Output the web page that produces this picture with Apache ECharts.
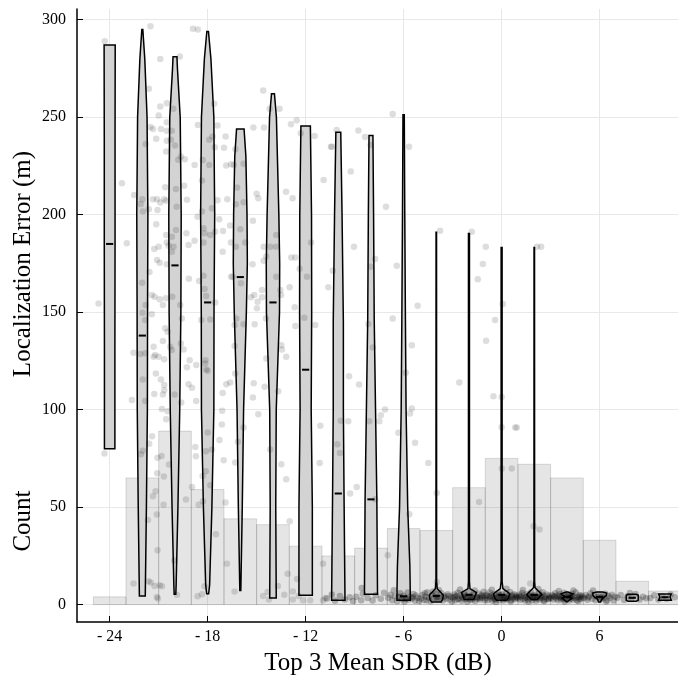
<!DOCTYPE html>
<html>
<head>
<meta charset="utf-8">
<script src="https://cdn.jsdelivr.net/npm/echarts@6/dist/echarts.min.js"></script>
<style>
  html, body { margin: 0; padding: 0; background: #fff; }
  #chart { width: 678px; height: 681px; }
</style>
</head>
<body>
<div id="chart"></div>
<script>
// Histogram of Top-3 mean SDR (2 dB bins)
const binStarts = [-25, -23, -21, -19, -17, -15, -13, -11, -9, -7, -5, -3, -1, 1, 3, 5, 7, 9];
const binCounts = [4, 65, 89, 59, 44, 41, 30, 25, 29, 39, 38, 60, 75, 72, 65, 33, 12, 7];
const BIN_WIDTH = 2;

// Per-bin violins of localization error: centre (dB), median (m),
// and density outline as [error (m), half-width (dB)] pairs.
const violinCenters = [-24, -22, -20, -18, -16, -14, -12, -10, -8, -6, -4, -2, 0, 2, 4, 6, 8, 10];
const violinMedians = [185, 138, 174, 155, 168, 155, 120.5, 57, 54, 4.3, 4.5, 5, 5, 5, 4, 4, 3.5, 3.8];
const violinProfiles = [
  [[80, 0.32], [130, 0.32], [185, 0.33], [240, 0.33], [287, 0.34]],
  [[4.4, 0.18], [50, 0.25], [100, 0.31], [150, 0.32], [200, 0.34], [250, 0.29], [280, 0.15], [295, 0.03]],
  [[5.3, 0.05], [10, 0.07], [50, 0.18], [100, 0.29], [150, 0.36], [200, 0.38], [250, 0.32], [275, 0.15], [281, 0.12]],
  [[5.6, 0.06], [10, 0.12], [50, 0.26], [100, 0.38], [150, 0.39], [200, 0.43], [250, 0.38], [280, 0.2], [294, 0.05]],
  [[7.3, 0.03], [50, 0.12], [100, 0.2], [150, 0.37], [175, 0.43], [200, 0.41], [230, 0.34], [244, 0.23]],
  [[3.4, 0.2], [50, 0.17], [100, 0.2], [150, 0.4], [175, 0.41], [200, 0.36], [250, 0.21], [262, 0.09]],
  [[4.8, 0.41], [50, 0.41], [100, 0.34], [150, 0.37], [200, 0.36], [245.5, 0.29]],
  [[2.2, 0.41], [57, 0.35], [100, 0.31], [145, 0.31], [200, 0.23], [242.3, 0.15]],
  [[5.3, 0.4], [54, 0.36], [100, 0.28], [146, 0.2], [200, 0.16], [240.6, 0.12]],
  [[2.2, 0.41], [10, 0.4], [20, 0.38], [50, 0.25], [100, 0.15], [146, 0.11], [200, 0.07], [251.3, 0.04]],
  [[1.3, 0.29], [2.5, 0.38], [4.8, 0.43], [8.2, 0.06], [12, 0.02], [191, 0.015]],
  [[2.6, 0.29], [6.2, 0.46], [8.2, 0.06], [12, 0.03], [190.4, 0.03]],
  [[2.2, 0.31], [3.5, 0.42], [5.6, 0.5], [8.2, 0.08], [12, 0.03], [183.2, 0.03]],
  [[2.6, 0.18], [5.2, 0.46], [8.7, 0.05], [12, 0.02], [183.2, 0.015]],
  [[1.6, 0.05], [3.3, 0.31], [4.1, 0.12], [5.5, 0.37], [6.5, 0.06]],
  [[1.3, 0.05], [3, 0.15], [4.5, 0.4], [6, 0.43], [6.5, 0.18]],
  [[1.8, 0.25], [2.3, 0.37], [4.8, 0.37], [5.3, 0.25]],
  [[2.3, 0.39], [3.9, 0.31], [5.5, 0.39]]
];

// Individual trials: [SDR (dB), localization error (m)]
const spreadPoints = [
  [-24.3, 288.9], [-21.5, 296.6], [-18.9, 295.4], [-18.6, 295], [-20.9, 279.8], [-19.7, 281.2], [-21.6, 264.6],
  [-20.9, 255.5], [-20.5, 257.2], [-21.0, 250.9], [-20.1, 254.3], [-17.6, 256.9], [-18.6, 246], [-17.4, 245.7],
  [-21.5, 245], [-21.35, 244], [-20.86, 244], [-20.5, 247.4], [-20.5, 243], [-20.2, 243], [-21.15, 238.9],
  [-20.5, 237.9], [-20.25, 238.4], [-21.8, 236.2], [-20.0, 235.5], [-20.54, 232.4], [-19.8, 228.2], [-19.4, 228.5],
  [-19.64, 229.8], [-18.8, 225.5], [-18.3, 228.1], [-17.9, 225.5], [-17.9, 238.4], [-17.7, 240.1], [-17.56, 234.6],
  [-16.9, 240.1], [-17.0, 234.4], [-16.3, 233.6], [-16.86, 225.2], [-16.57, 225.9], [-16.4, 225.5], [-15.8, 226.1],
  [-15.2, 244.7], [-14.55, 244.7], [-14.6, 263.7], [-14.2, 254.3], [-13.6, 254.3], [-12.9, 246.4], [-12.55, 248.5],
  [-12.3, 241.8], [-11.45, 240.4], [-10.45, 234.9], [-10.9, 217.8], [-23.25, 216.1], [-22.5, 210.1], [-22.1, 205.5],
  [-22.0, 207.9], [-21.35, 207.9], [-21.1, 207.9], [-20.9, 206.2], [-20.66, 207.9], [-20.54, 207.2], [-21.07, 202.4],
  [-21.6, 202.8], [-21.97, 201.6], [-20.6, 214.1], [-19.9, 204.1], [-19.94, 213.2], [-19.44, 214.9], [-19.27, 207.7],
  [-18.35, 217.5], [-18.35, 201.6], [-17.74, 203.3], [-17.4, 207.4], [-16.8, 207.9], [-16.2, 213.9], [-16.27, 205.4],
  [-15.8, 206.4], [-15.0, 210.8], [-14.9, 208.4], [-13.2, 211.8], [-12.8, 208.4],
  [-21.15, 195.1], [-20.54, 189.6], [-20.19, 188.7], [-19.94, 192.2], [-19.3, 190.5], [-18.62, 199], [-18.25, 193.1],
  [-18.19, 190.5], [-17.84, 189.6], [-17.54, 191.3], [-17.29, 197.7], [-17.06, 191.7], [-16.62, 194.5], [-16.0, 192.5],
  [-16.57, 185.7], [-16.27, 183.6], [-15.7, 185.7], [-15.23, 196.9], [-22.95, 185.3], [-21.27, 182.4], [-21.0, 183.6],
  [-20.5, 185.7], [-20.09, 183.6], [-20.19, 181], [-20.39, 184.1], [-21.1, 176.8], [-20.94, 175.4], [-20.5, 174.6],
  [-21.56, 170.6], [-19.17, 184.5], [-18.8, 186.7], [-18.25, 185.7], [-17.08, 181], [-15.25, 174.6], [-14.57, 183.6],
  [-14.17, 183.6], [-13.82, 183.6], [-13.8, 189.6], [-14.57, 176.4], [-14.41, 178.5], [-13.8, 168.2], [-12.88, 178],
  [-12.63, 178], [-12.37, 172.3], [-11.92, 168.2], [-11.67, 185.7], [-10.34, 171.3], [-10.61, 162.8], [-19.15, 167.1],
  [-18.52, 166], [-18.25, 168.7], [-16.56, 168.2], [-16.47, 168.2], [-15.96, 164.8], [-18.19, 161.9], [-18.09, 158.3],
  [-17.54, 155], [-17.84, 146.3], [-18.39, 146], [-22.01, 165.1], [-21.42, 158.8], [-21.25, 157.9], [-20.94, 156.6],
  [-20.74, 153.7], [-20.56, 157.1], [-21.8, 153.7], [-21.99, 149.7], [-21.83, 146], [-21.42, 149], [-20.17, 157.9],
  [-19.68, 153.7], [-19.58, 146.8], [-15.35, 157.6], [-15.15, 158.8], [-14.94, 155.4], [-14.98, 152], [-14.67, 161.4],
  [-14.67, 157.6], [-13.55, 161.4], [-13.51, 158.8], [-12.98, 162.8], [-12.67, 152.5], [-14.43, 146.8], [-16.25, 146.8],
  [-16.35, 143.4], [-15.8, 143.8], [-15.12, 143.8], [-12.63, 142.9], [-11.41, 143.4], [-12.08, 147.1], [-24.68, 154.5],
  [-20.6, 141.7], [-20.45, 140], [-20.74, 135.2], [-21.31, 132.3], [-21.31, 127.1], [-21.0, 127.1], [-20.66, 125.8],
  [-21.21, 128], [-22.54, 129.2], [-22.13, 128.5], [-21.83, 128.9], [-20.29, 132.3], [-20.19, 130.6], [-19.64, 134],
  [-19.47, 130.9], [-19.1, 125.4], [-18.7, 122.9], [-19.27, 121.7], [-18.13, 125.4], [-18.15, 123.7], [-18.09, 120.6],
  [-18.0, 119.9], [-16.35, 132.6], [-16.31, 118.6], [-13.49, 133.1], [-13.45, 130.9], [-13.19, 127.1], [-14.41, 126.3],
  [-21.17, 118.6], [-20.86, 115.5], [-20.66, 112.6], [-20.66, 110], [-21.27, 108], [-20.74, 107.8], [-21.97, 115.5],
  [-21.83, 104.4], [-22.64, 104.9], [-20.02, 107.8], [-19.62, 103.7], [-19.17, 113.1], [-18.96, 111.2], [-18.7, 104.4],
  [-17.08, 108.6], [-16.86, 113.1], [-16.62, 114], [-15.18, 113.5], [-15.23, 106.3], [-14.51, 111.7], [-13.68, 109.5],
  [-20.8, 100.3], [-20.45, 99.2], [-20.54, 95.1], [-17.11, 99.4], [-17.13, 92.4], [-17.27, 84.5], [-15.8, 90.9],
  [-14.9, 97.6], [-11.1, 91.7], [-24.32, 77.5], [-21.4, 86.4], [-21.58, 82.5], [-21.97, 78.9], [-22.09, 77.2],
  [-21.07, 75.3], [-20.82, 76.3], [-20.37, 71.9], [-21.09, 67.4], [-20.68, 65.7], [-21.19, 58.2], [-21.35, 55.6],
  [-20.7, 51.3], [-21.11, 46.2], [-21.66, 43.4], [-18.76, 80.9], [-18.72, 76.1], [-18.11, 78.7], [-17.74, 79.6],
  [-17.99, 88.3], [-17.02, 74.1], [-18.31, 66], [-18.11, 68.4], [-17.84, 61.3], [-18.96, 60.4], [-18.55, 51.3],
  [-18.29, 53], [-16.9, 52.4], [-17.49, 36.1], [-19.33, 53.9], [-16.31, 72.9], [-16.15, 83.5], [-13.49, 72],
  [-14.17, 79.6], [-13.19, 64.3], [-12.98, 42.8], [-11.14, 72.7], [-16.82, 21], [-21.07, 27.9], [-20.05, 22.7],
  [-22.54, 10.8], [-21.62, 12], [-21.48, 11.3], [-21.25, 9.5], [-20.94, 9.9], [-20.8, 9.4], [-21.11, 3.9],
  [-21.05, 3.1], [-19.88, 5.1], [-18.62, 4.3], [-18.35, 5.3], [-18.19, 9.4], [-16.35, 6.8], [-14.61, 4.4],
  [-14.33, 6.5], [-14.25, 2.7], [-13.7, 9.5], [-13.31, 5.1], [-13.1, 15.9], [-12.53, 13.1], [-12.78, 6.8],
  [-12.78, 2.6], [-12.43, 4.4], [-12.16, 2.2], [-11.72, 2.2], [-10.94, 21], [-10.8, 3.4], [-10.94, 2.2],
  [-10.1, 243.5], [-10.4, 234.9], [-8.77, 243.2], [-8.36, 239.8], [-8.02, 235.8], [-9.24, 222.1], [-6.67, 251.7],
  [-5.67, 234.9], [-7.08, 204.1], [-9.04, 183.6], [-7.75, 177.3], [-8.02, 173.3], [-6.42, 173.8], [-8.16, 143.9],
  [-6.67, 146.8], [-5.14, 153.3], [-3.77, 191.8], [-1.83, 191.3], [-0.97, 183.6], [-1.15, 174.7], [-1.46, 166.9],
  [0.07, 154.2], [-0.4, 146], [2.16, 183.6], [2.42, 183.6], [-7.89, 131.9], [-5.5, 133.1], [-5.87, 118.9],
  [-9.34, 117.2], [-8.73, 112.9], [-7.14, 100.1], [-7.4, 97.2], [-7.49, 94.1], [-8.1, 94.1], [-9.39, 94.1],
  [-9.85, 94.3], [-5.5, 100.6], [-5.61, 98.1], [-6.32, 88.1], [-5.3, 83], [-10.06, 82.3], [-9.9, 77.8],
  [-4.49, 72.7], [-2.59, 114], [-0.95, 135.3], [-0.5, 106.9], [-8.87, 60.4], [-9.28, 57], [-7.75, 54.1],
  [-3.97, 57.3], [-1.38, 52.7], [-5.65, 46.4], [-6.97, 25.3], [-3.97, 11.6], [0.62, 69.8], [0.01, 69.8],
  [0.83, 90.9], [0.93, 90.9], [1.95, 40.2], [2.32, 38.5], [1.75, 10.8], [0.0, 106.5], [0.0, 91]
];

// Trials with near-perfect localization (error below ~10 m)
const lowPoints = [
  [-10.7, 3.1], [-10.4, 5.2], [-10.2, 2.0], [-9.9, 4.4], [-9.6, 2.6], [-9.3, 3.8], [-9.1, 1.9],
  [-8.9, 4.1], [-8.6, 2.3], [-8.5, 5.6], [-8.2, 3.4], [-7.9, 2.1], [-7.7, 4.8], [-7.4, 3.0], [-7.2, 6.1], [-8.57, 8.5],
  [-6.95, 3.6], [-6.8, 5.1], [-6.7, 2.2], [-6.55, 4.3], [-6.4, 1.7], [-6.3, 3.9], [-6.2, 5.8], [-6.1, 2.8],
  [-6.0, 4.5], [-5.95, 1.5], [-5.85, 3.3], [-5.75, 6.2], [-5.7, 2.5], [-5.6, 4.0], [-5.5, 3.1], [-5.4, 5.4],
  [-5.3, 2.0], [-5.25, 4.7], [-5.15, 3.5], [-5.05, 1.9], [-6.6, 7.4], [-5.9, 2.9], [-6.25, 4.1], [-5.45, 3.8],
  [-4.95, 3.2], [-4.85, 5.0], [-4.75, 2.4], [-4.65, 4.1], [-4.55, 6.3], [-4.45, 3.6], [-4.35, 1.8], [-4.25, 4.9],
  [-4.15, 3.0], [-4.05, 5.5], [-3.95, 2.6], [-3.9, 4.2], [-3.8, 3.4], [-3.7, 6.0], [-3.6, 2.1], [-3.5, 4.6],
  [-3.4, 3.1], [-3.3, 5.3], [-3.2, 2.7], [-3.1, 4.0], [-4.6, 2.2], [-4.2, 6.8], [-3.85, 7.5], [-4.0, 3.7],
  [-3.55, 3.9], [-3.05, 1.6], [-4.7, 5.8], [-3.25, 4.4],
  [-2.97, 3.5], [-2.9, 5.2], [-2.82, 2.3], [-2.75, 4.4], [-2.68, 6.1], [-2.6, 3.0], [-2.52, 4.8], [-2.45, 2.0],
  [-2.38, 3.9], [-2.3, 5.6], [-2.22, 2.8], [-2.15, 4.3], [-2.08, 3.2], [-2.0, 6.4], [-1.93, 2.5], [-1.86, 4.6],
  [-1.78, 3.4], [-1.7, 5.1], [-1.62, 1.9], [-1.55, 4.0], [-1.48, 3.0], [-1.4, 5.7], [-1.33, 2.6], [-1.25, 4.2],
  [-1.18, 3.6], [-1.1, 6.6], [-1.03, 2.2], [-2.55, 7.8], [-2.1, 1.5], [-1.65, 7.2], [-2.87, 4.0], [-2.4, 3.3],
  [-1.95, 4.1], [-1.5, 3.7], [-1.2, 4.9], [-2.7, 2.9], [-2.25, 5.0], [-1.8, 2.7], [-1.35, 3.5], [-1.05, 4.4],
  [-0.98, 3.4], [-0.92, 5.0], [-0.86, 2.4], [-0.8, 4.3], [-0.74, 6.2], [-0.68, 3.1], [-0.62, 4.7], [-0.56, 2.0],
  [-0.5, 3.8], [-0.44, 5.5], [-0.38, 2.7], [-0.32, 4.2], [-0.26, 3.3], [-0.2, 6.0], [-0.14, 2.3], [-0.08, 4.5],
  [-0.02, 3.6], [0.04, 5.2], [0.1, 2.1], [0.16, 4.0], [0.22, 3.0], [0.28, 5.8], [0.34, 2.6], [0.4, 4.4],
  [0.46, 3.5], [0.52, 6.5], [0.58, 2.2], [0.64, 4.1], [0.7, 3.2], [0.76, 5.3], [0.82, 2.8], [0.88, 4.6],
  [0.94, 3.7], [-0.6, 7.6], [0.3, 8.1], [-0.35, 1.4], [0.55, 1.6], [-0.15, 4.9], [0.12, 3.9], [0.35, 3.4],
  [0.65, 4.8], [-0.7, 4.0], [-0.45, 3.0], [0.85, 3.9], [0.05, 2.9],
  [1.02, 3.3], [1.08, 5.1], [1.14, 2.5], [1.2, 4.3], [1.26, 6.0], [1.32, 3.0], [1.38, 4.7], [1.44, 2.1],
  [1.5, 3.8], [1.56, 5.4], [1.62, 2.7], [1.68, 4.2], [1.74, 3.4], [1.8, 6.3], [1.86, 2.3], [1.92, 4.5],
  [1.98, 3.6], [2.04, 5.0], [2.1, 2.0], [2.16, 4.0], [2.22, 3.1], [2.28, 5.7], [2.34, 2.6], [2.4, 4.4],
  [2.46, 3.5], [2.52, 6.4], [2.58, 2.2], [2.64, 4.1], [2.7, 3.2], [2.76, 5.2], [2.82, 2.8], [2.88, 4.6],
  [2.94, 3.7], [1.3, 7.5], [2.25, 8.0], [1.65, 1.5], [2.6, 1.7], [1.1, 4.0], [1.45, 3.5], [1.9, 3.9],
  [2.05, 3.2], [2.5, 4.9], [2.9, 3.0], [1.7, 4.8], [2.35, 3.8],
  [3.03, 3.5], [3.1, 5.0], [3.16, 2.6], [3.22, 4.3], [3.28, 5.9], [3.34, 3.1], [3.4, 4.6], [3.46, 2.2],
  [3.52, 3.9], [3.58, 5.3], [3.64, 2.8], [3.7, 4.1], [3.76, 3.3], [3.82, 6.1], [3.88, 2.4], [3.94, 4.4],
  [4.0, 3.6], [4.06, 5.1], [4.12, 2.1], [4.18, 4.0], [4.24, 3.2], [4.3, 5.6], [4.36, 2.7], [4.42, 4.3],
  [4.48, 3.4], [4.54, 6.2], [4.6, 2.3], [4.66, 4.0], [4.72, 3.1], [4.78, 5.0], [4.84, 2.9], [4.9, 4.5],
  [4.96, 3.7], [3.5, 7.0], [4.4, 7.3], [3.85, 1.5], [4.7, 1.8], [3.25, 4.0], [3.6, 3.6], [4.1, 4.5],
  [4.3, 3.9], [4.8, 4.1],
  [5.05, 3.4], [5.15, 5.0], [5.25, 2.5], [5.35, 4.2], [5.45, 5.8], [5.55, 3.0], [5.65, 4.6], [5.75, 2.2],
  [5.85, 3.9], [5.95, 5.3], [6.05, 2.7], [6.15, 4.1], [6.25, 3.3], [6.35, 5.6], [6.45, 2.3], [6.55, 4.4],
  [6.65, 3.6], [6.75, 5.1], [6.85, 2.1], [6.95, 4.0], [5.6, 7.2], [6.4, 1.6], [5.3, 3.7], [6.1, 3.5],
  [7.1, 3.6], [7.3, 5.0], [7.5, 2.4], [7.7, 4.3], [7.95, 3.1], [8.2, 5.4], [8.45, 2.7], [8.65, 4.0],
  [8.85, 3.3], [7.85, 6.0],
  [9.1, 3.4], [9.35, 4.8], [9.6, 2.6], [9.85, 4.2], [10.1, 3.0], [10.35, 5.2], [10.6, 3.8]
];

// Axis ticks
const xTickValues = [-24, -18, -12, -6, 0, 6];
const yTickValues = [0, 50, 100, 150, 200, 250, 300];

const FONT = '"Liberation Serif", "DejaVu Serif", serif';
const GRID_COLOR = '#e8e8e8';

const chart = echarts.init(document.getElementById('chart'), null, { renderer: 'canvas' });

function renderBin(params, api) {
  const start = api.value(0);
  const count = api.value(1);
  const topLeft = api.coord([start, count]);
  const bottomRight = api.coord([start + BIN_WIDTH, 0]);
  return {
    type: 'rect',
    shape: {
      x: topLeft[0],
      y: topLeft[1],
      width: bottomRight[0] - topLeft[0],
      height: bottomRight[1] - topLeft[1]
    },
    style: { fill: 'rgba(0,0,0,0.1)', stroke: 'rgba(0,0,0,0.13)', lineWidth: 1 }
  };
}

function renderViolin(params, api) {
  const i = params.dataIndex;
  const c = api.value(0);
  const med = api.value(1);
  const prof = violinProfiles[i];
  const right = prof.map(([y, w]) => api.coord([c + w, y]));
  const left = prof.slice().reverse().map(([y, w]) => api.coord([c - w, y]));
  const m0 = api.coord([c - 0.22, med]);
  const m1 = api.coord([c + 0.22, med]);
  return {
    type: 'group',
    children: [
      {
        type: 'polygon',
        shape: { points: right.concat(left) },
        style: { fill: '#d3d3d3', stroke: '#000', lineWidth: 1.5, lineJoin: 'miter' }
      },
      {
        type: 'line',
        shape: { x1: m0[0], y1: m0[1], x2: m1[0], y2: m1[1] },
        style: { stroke: '#000', lineWidth: 2 }
      }
    ]
  };
}

const option = {
  backgroundColor: '#fff',
  animation: false,
  grid: { left: 77, right: 0, top: 9, bottom: 59, containLabel: false },
  xAxis: {
    type: 'value',
    min: -26,
    max: 10.8,
    axisLine: { onZero: false, lineStyle: { color: '#000', width: 1.5 } },
    axisTick: { show: true, inside: true, length: 6, customValues: xTickValues, lineStyle: { color: '#000', width: 1 } },
    axisLabel: {
      customValues: xTickValues,
      formatter: v => (v < 0 ? '- ' + Math.abs(v) : String(v)),
      fontFamily: FONT, fontSize: 16, color: '#000', margin: 7
    },
    splitLine: { show: true, lineStyle: { color: GRID_COLOR, width: 1 } }
  },
  yAxis: {
    type: 'value',
    min: -8.9,
    max: 305.5,
    axisLine: { show: true, onZero: false, lineStyle: { color: '#000', width: 1.5 } },
    axisTick: { show: true, inside: true, length: 6, customValues: yTickValues, lineStyle: { color: '#000', width: 1 } },
    axisLabel: {
      customValues: yTickValues,
      fontFamily: FONT, fontSize: 16, color: '#000', margin: 11
    },
    splitLine: { show: true, lineStyle: { color: GRID_COLOR, width: 1 } }
  },
  graphic: [
    {
      type: 'text', x: 23, y: 264, rotation: Math.PI / 2,
      style: { text: 'Localization Error (m)', font: '25px ' + FONT, fill: '#000', align: 'center', verticalAlign: 'middle' }
    },
    {
      type: 'text', x: 23, y: 521, rotation: Math.PI / 2,
      style: { text: 'Count', font: '25px ' + FONT, fill: '#000', align: 'center', verticalAlign: 'middle' }
    },
    {
      type: 'text', x: 378, y: 663,
      style: { text: 'Top 3 Mean SDR (dB)', font: '25px ' + FONT, fill: '#000', align: 'center', verticalAlign: 'middle' }
    }
  ],
  series: [
    {
      type: 'custom',
      name: 'Count',
      clip: true,
      z: 1,
      renderItem: renderBin,
      encode: { x: 0, y: 1 },
      data: binStarts.map((s, i) => [s, binCounts[i]])
    },
    {
      type: 'custom',
      name: 'Violins',
      clip: true,
      z: 2,
      renderItem: renderViolin,
      encode: { x: 0, y: 1 },
      data: violinCenters.map((c, i) => [c, violinMedians[i]])
    },
    {
      type: 'scatter',
      name: 'Trials',
      z: 3,
      symbolSize: 6.5,
      itemStyle: { color: 'rgba(0,0,0,0.17)' },
      data: spreadPoints
    },
    {
      type: 'scatter',
      name: 'Low-error trials',
      z: 3,
      symbolSize: 6.5,
      itemStyle: { color: 'rgba(0,0,0,0.3)' },
      data: lowPoints
    }
  ]
};

chart.setOption(option);
</script>
</body>
</html>
